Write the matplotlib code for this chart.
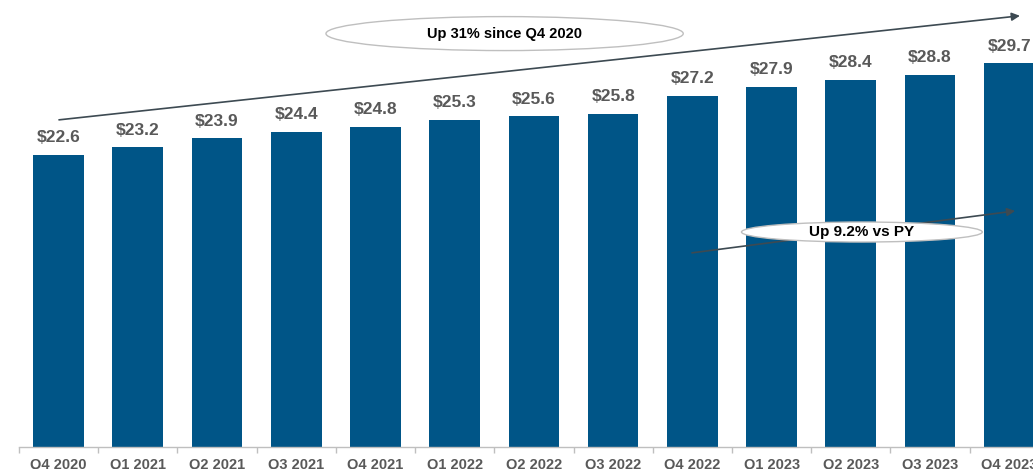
import numpy as np
import matplotlib
matplotlib.use('Agg')
import matplotlib.pyplot as plt
from matplotlib.patches import Ellipse

plt.rcParams['font.family']=['Liberation Sans','DejaVu Sans']

QUARTERS=['Q4 2020','Q1 2021','Q2 2021','Q3 2021','Q4 2021','Q1 2022','Q2 2022',
          'Q3 2022','Q4 2022','Q1 2023','Q2 2023','Q3 2023','Q4 2023']
VALUES=[22.6,23.2,23.9,24.4,24.8,25.3,25.6,25.8,27.2,27.9,28.4,28.8,29.7]

BAR_COLOR='#005587'
LABEL_COLOR='#595959'
ARROW_COLOR='#3d4a52'
ELLIPSE_EDGE='#bfbfbf'
BAR_WIDTH=0.64

fig=plt.figure(figsize=(10.33,4.69),dpi=100)
ax=fig.add_axes([19/1033,22/469,1-19/1033,447/469])

x=np.arange(len(VALUES))
ax.bar(x,VALUES,width=BAR_WIDTH,color=BAR_COLOR,zorder=1)
for xi,v in zip(x,VALUES):
    ax.annotate('${:.1f}'.format(v),(xi,v),xytext=(0,7),textcoords='offset points',
        ha='center',va='bottom',fontsize=12.5,fontweight='bold',color=LABEL_COLOR)

# axis styling
for side in ['top','right','left']:
    ax.spines[side].set_visible(False)
ax.spines['bottom'].set_color(ELLIPSE_EDGE)
ax.spines['bottom'].set_linewidth(1)
ax.set_yticks([])
ax.set_xticks(x)
ax.set_xticklabels(QUARTERS,fontsize=10.5,fontweight='bold',color=LABEL_COLOR)
ax.tick_params(axis='x',which='major',length=0,pad=8)
ax.set_xticks(np.arange(-0.5,len(VALUES),1.0),minor=True)
ax.tick_params(axis='x',which='minor',length=4,color=ELLIPSE_EDGE,width=1)

# limits after ticks (set_xticks can widen the view)
ax.set_xlim(-0.5,12.3)
ax.set_ylim(0,34.6)

# growth arrows + callouts
ax.annotate('',xy=(12.17,33.4),xytext=(-0.03,25.3),
    arrowprops=dict(arrowstyle='-|>',color=ARROW_COLOR,lw=1.2,mutation_scale=12),zorder=3)
ax.add_patch(Ellipse((5.63,32.0),4.51,2.63,facecolor='white',edgecolor=ELLIPSE_EDGE,lw=1,zorder=4))
ax.text(5.63,32.0,'Up 31% since Q4 2020',ha='center',va='center',
    fontsize=10.5,fontweight='bold',color='black',zorder=5)

ax.annotate('',xy=(12.11,18.3),xytext=(7.96,15.0),
    arrowprops=dict(arrowstyle='-|>',color=ARROW_COLOR,lw=1.2,mutation_scale=12),zorder=3)
ax.add_patch(Ellipse((10.14,16.64),3.04,1.55,facecolor='white',edgecolor=ELLIPSE_EDGE,lw=1,zorder=4))
ax.text(10.14,16.64,'Up 9.2% vs PY',ha='center',va='center',
    fontsize=11,fontweight='bold',color='black',zorder=5)

fig.savefig('out.png',dpi=100)
